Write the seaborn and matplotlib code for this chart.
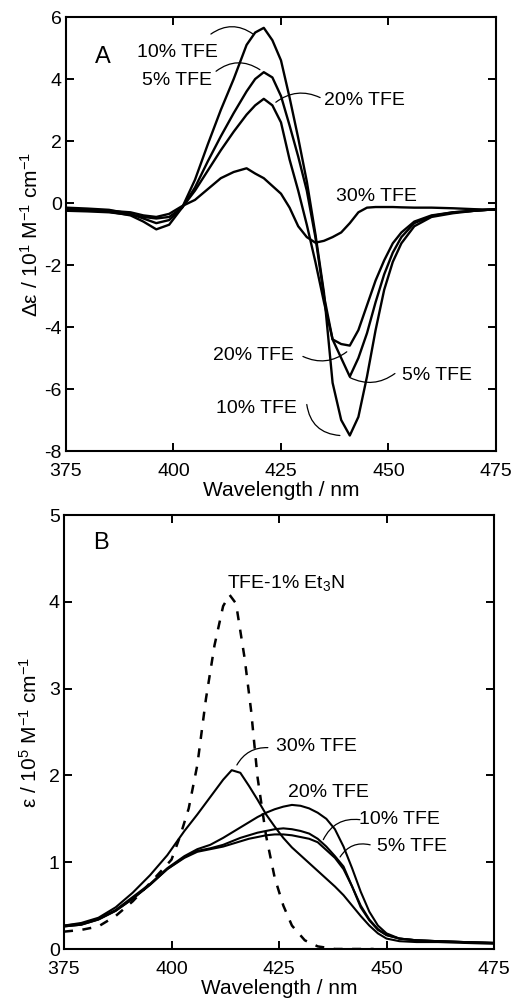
import numpy as np
import pandas as pd
import matplotlib
matplotlib.use("Agg")
import matplotlib.pyplot as plt
import seaborn as sns

# ---- datos panel A (CD) ----
wl_a = [375, 380, 385, 390, 393, 396, 399, 402, 405, 408, 411, 414, 417, 419,
        421, 423, 425, 427, 429, 431, 433, 435, 437, 439, 441, 443, 445, 447,
        449, 451, 453, 456, 460, 465, 470, 475]
cd_10 = [-0.2, -0.22, -0.28, -0.4, -0.6, -0.85, -0.7, -0.15, 0.75, 1.9, 3.0, 4.0,
         5.1, 5.5, 5.65, 5.25, 4.6, 3.4, 2.1, 0.7, -1.0, -2.9, -5.8, -7.0, -7.5,
         -6.9, -5.6, -4.1, -2.8, -1.9, -1.3, -0.75, -0.45, -0.33, -0.25, -0.2]
cd_5 = [-0.15, -0.18, -0.22, -0.35, -0.5, -0.65, -0.55, -0.15, 0.5, 1.35, 2.15,
        2.9, 3.6, 4.0, 4.22, 4.05, 3.45, 2.5, 1.5, 0.4, -1.1, -3.0, -4.4, -5.0,
        -5.6, -5.0, -4.2, -3.2, -2.3, -1.6, -1.1, -0.65, -0.42, -0.3, -0.25, -0.2]
cd_20 = [-0.25, -0.27, -0.3, -0.38, -0.45, -0.5, -0.45, -0.15, 0.4, 1.05, 1.7,
         2.3, 2.85, 3.15, 3.36, 3.15, 2.6, 1.4, 0.4, -0.7, -1.9, -3.2, -4.4,
         -4.55, -4.6, -4.1, -3.3, -2.5, -1.85, -1.3, -0.95, -0.6, -0.4, -0.3,
         -0.25, -0.2]
cd_30 = [-0.2, -0.22, -0.25, -0.3, -0.4, -0.45, -0.35, -0.1, 0.1, 0.45, 0.8,
         1.0, 1.12, 0.95, 0.8, 0.55, 0.3, -0.15, -0.75, -1.1, -1.28, -1.22, -1.1,
         -0.95, -0.65, -0.3, -0.15, -0.13, -0.13, -0.13, -0.14, -0.15, -0.15,
         -0.17, -0.2, -0.22]

# ---- datos panel B (absorcion) ----
wl_b = [375, 379, 383, 387, 391, 395, 399, 403, 406, 409, 412, 414, 416, 418,
        420, 422, 424, 426, 428, 430, 432, 434, 436, 438, 440, 442, 444, 446,
        448, 450, 453, 457, 462, 468, 475]
ab_30 = [0.27, 0.3, 0.36, 0.48, 0.65, 0.85, 1.08, 1.36, 1.55, 1.75, 1.95, 2.06,
         2.03, 1.88, 1.72, 1.55, 1.41, 1.28, 1.17, 1.08, 0.99, 0.9, 0.81, 0.72,
         0.62, 0.5, 0.38, 0.27, 0.18, 0.12, 0.09, 0.08, 0.08, 0.07, 0.06]
ab_20 = [0.27, 0.29, 0.35, 0.45, 0.6, 0.75, 0.93, 1.07, 1.15, 1.2, 1.28, 1.34,
         1.4, 1.46, 1.52, 1.57, 1.61, 1.64, 1.66, 1.65, 1.62, 1.57, 1.5, 1.38,
         1.18, 0.93, 0.66, 0.43, 0.27, 0.18, 0.12, 0.1, 0.09, 0.08, 0.07]
ab_10 = [0.26, 0.28, 0.34, 0.44, 0.58, 0.74, 0.92, 1.06, 1.13, 1.16, 1.2, 1.24,
         1.28, 1.31, 1.34, 1.36, 1.38, 1.39, 1.38, 1.36, 1.33, 1.27, 1.18, 1.07,
         0.95, 0.72, 0.48, 0.33, 0.22, 0.16, 0.12, 0.1, 0.09, 0.08, 0.07]
ab_5 = [0.26, 0.28, 0.34, 0.44, 0.58, 0.74, 0.92, 1.05, 1.12, 1.15, 1.18, 1.21,
        1.24, 1.27, 1.29, 1.31, 1.32, 1.32, 1.31, 1.29, 1.27, 1.23, 1.14, 1.05,
        0.92, 0.72, 0.5, 0.34, 0.23, 0.16, 0.12, 0.1, 0.09, 0.08, 0.07]
wl_et3n = [375, 379, 383, 387, 391, 395, 398, 400, 402, 404, 406, 408, 410, 412,
           413.5, 415, 417, 418.5, 420, 422, 424, 426, 428, 431, 434, 438, 442, 447]
ab_et3n = [0.2, 0.22, 0.26, 0.38, 0.55, 0.76, 0.92, 1.03, 1.3, 1.62, 2.12, 2.88,
           3.5, 3.95, 4.08, 3.98, 3.35, 2.75, 1.98, 1.3, 0.82, 0.5, 0.27, 0.1,
           0.03, 0.0, 0.0, 0.0]

sns.set_style("ticks")
plt.rcParams["font.family"] = ["Liberation Sans", "DejaVu Sans"]
plt.rcParams["mathtext.default"] = "regular"
plt.rcParams["axes.unicode_minus"] = False
plt.rcParams["text.color"] = "black"
plt.rcParams["axes.labelcolor"] = "black"

df_a = pd.concat([
    pd.DataFrame({"wl": wl_a, "val": v, "serie": s})
    for s, v in [("10%", cd_10), ("5%", cd_5), ("20%", cd_20), ("30%", cd_30)]
])
df_b = pd.concat([
    pd.DataFrame({"wl": wl_b, "val": v, "serie": s})
    for s, v in [("30%", ab_30), ("20%", ab_20), ("10%", ab_10), ("5%", ab_5)]
])
df_et = pd.DataFrame({"wl": wl_et3n, "val": ab_et3n})

fig = plt.figure(figsize=(5.18, 10), dpi=100)
ax_a = fig.add_axes([0.1274, 0.549, 0.8301, 0.434])
ax_b = fig.add_axes([0.1236, 0.051, 0.8301, 0.434])

negro = ["black"] * 4
sns.lineplot(data=df_a, x="wl", y="val", hue="serie", palette=negro,
             linewidth=1.7, legend=False, ax=ax_a, sort=False,
             estimator=None)
sns.lineplot(data=df_b, x="wl", y="val", hue="serie", palette=negro,
             linewidth=1.5, legend=False, ax=ax_b, sort=False,
             estimator=None)
sns.lineplot(data=df_et, x="wl", y="val", color="black", linewidth=1.8,
             dashes=False, ax=ax_b, sort=False, estimator=None,
             linestyle=(0, (3.6, 3.8)))


def estilo(ax, ylim, yticks, ylabel, lpad):
    ax.set_xlim(375, 475)
    ax.set_ylim(*ylim)
    ax.set_xticks([375, 400, 425, 450, 475])
    ax.set_yticks(yticks)
    ax.tick_params(direction="in", top=True, right=True, length=6, width=1.4,
                   labelsize=14, colors="black")
    ax.tick_params(axis="x", pad=9)
    ax.tick_params(axis="y", pad=3)
    for sp in ax.spines.values():
        sp.set_visible(True)
        sp.set_linewidth(1.5)
        sp.set_color("black")
    ax.set_xlabel("Wavelength / nm", fontsize=15, labelpad=0)
    ax.set_ylabel(ylabel, fontsize=15, labelpad=lpad)


estilo(ax_a, (-8, 6), [-8, -6, -4, -2, 0, 2, 4, 6],
       r"Δε / 10$^1$ M$^{-1}$ cm$^{-1}$", 1.5)
estilo(ax_b, (0, 5), [0, 1, 2, 3, 4, 5],
       r"ε / 10$^5$ M$^{-1}$ cm$^{-1}$", 6)

fs = 14
lk = dict(arrowstyle="-", lw=0.9, color="black", shrinkA=0, shrinkB=0)

# anotaciones panel A
ax_a.text(383.5, 4.7, "A", fontsize=17, va="center", ha="center")
ax_a.text(401, 4.85, "10% TFE", fontsize=fs, ha="center", va="center")
ax_a.annotate("", xy=(418.5, 5.45), xytext=(408.7, 5.45),
              arrowprops=dict(connectionstyle="arc3,rad=-0.35", **lk))
ax_a.text(400.8, 3.95, "5% TFE", fontsize=fs, ha="center", va="center")
ax_a.annotate("", xy=(420.1, 4.3), xytext=(409.9, 4.25),
              arrowprops=dict(connectionstyle="arc3,rad=-0.35", **lk))
ax_a.text(444.5, 3.3, "20% TFE", fontsize=fs, ha="center", va="center")
ax_a.annotate("", xy=(423.8, 3.25), xytext=(434.1, 3.4),
              arrowprops=dict(connectionstyle="arc3,rad=0.3", **lk))
ax_a.text(447.1, 0.2, "30% TFE", fontsize=fs, ha="center", va="center")
ax_a.text(418.7, -4.92, "20% TFE", fontsize=fs, ha="center", va="center")
ax_a.annotate("", xy=(440.3, -4.8), xytext=(430.1, -4.95),
              arrowprops=dict(connectionstyle="arc3,rad=0.3", **lk))
ax_a.text(461.3, -5.56, "5% TFE", fontsize=fs, ha="center", va="center")
ax_a.annotate("", xy=(441, -5.63), xytext=(451.5, -5.5),
              arrowprops=dict(connectionstyle="arc3,rad=-0.3", **lk))
ax_a.text(419.4, -6.63, "10% TFE", fontsize=fs, ha="center", va="center")
ax_a.annotate("", xy=(438.7, -7.5), xytext=(431, -6.5),
              arrowprops=dict(connectionstyle="arc3,rad=0.4", **lk))

# anotaciones panel B
ax_b.text(383.5, 4.68, "B", fontsize=17, va="center", ha="center")
ax_b.text(412.9, 4.22, r"TFE-1% Et$_3$N", fontsize=fs, ha="left",
          va="center")
ax_b.text(433.6, 2.33, "30% TFE", fontsize=fs, ha="center", va="center")
ax_b.annotate("", xy=(415.2, 2.12), xytext=(422.4, 2.32),
              arrowprops=dict(connectionstyle="arc3,rad=0.3", **lk))
ax_b.text(436.4, 1.8, "20% TFE", fontsize=fs, ha="center", va="center")
ax_b.text(452.9, 1.49, "10% TFE", fontsize=fs, ha="center", va="center")
ax_b.annotate("", xy=(435.3, 1.26), xytext=(443.8, 1.49),
              arrowprops=dict(connectionstyle="arc3,rad=0.35", **lk))
ax_b.text(455.9, 1.18, "5% TFE", fontsize=fs, ha="center", va="center")
ax_b.annotate("", xy=(439.2, 1.06), xytext=(446.2, 1.2),
              arrowprops=dict(connectionstyle="arc3,rad=0.35", **lk))

fig.savefig("out.png", dpi=100)
